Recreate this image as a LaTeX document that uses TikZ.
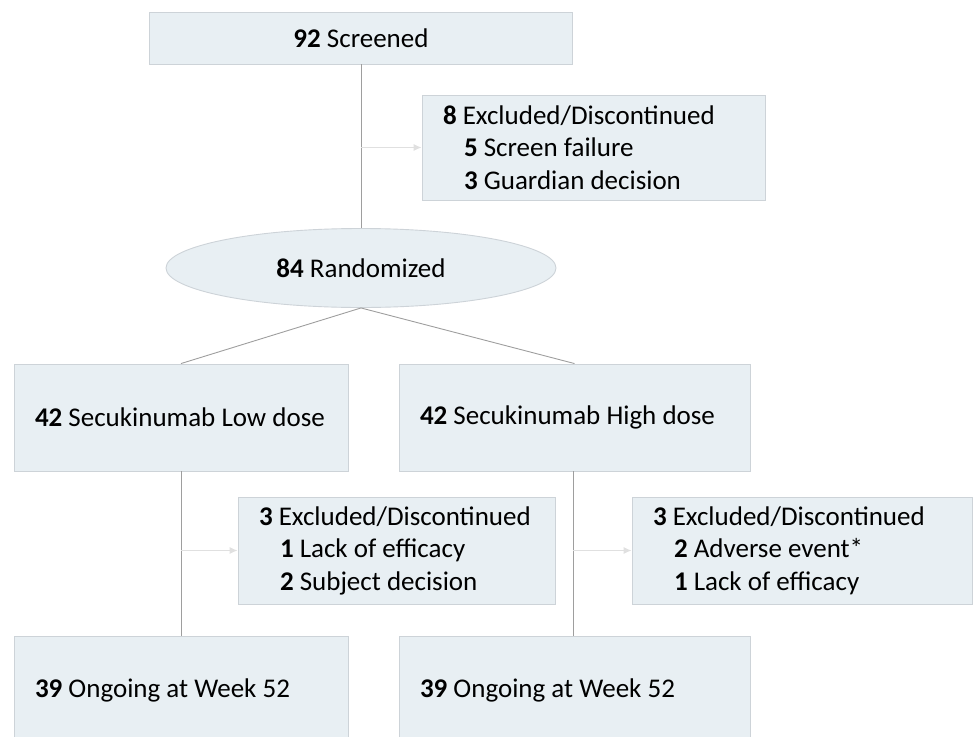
\documentclass[tikz,border=0pt]{standalone}
\usepackage{fontspec}
\setmainfont{Carlito}
\usetikzlibrary{arrows.meta}
\usetikzlibrary{shapes.geometric}
\definecolor{boxfill}{HTML}{E8EFF3}
\definecolor{boxline}{HTML}{CDD3D8}
\colorlet{linkgray}{black!38}
\colorlet{arrowgray}{black!12}

\begin{document}
\begin{tikzpicture}[
    x=1pt,y=-1pt,
    box/.style={draw=boxline,fill=boxfill,line width=0.9pt,rectangle,
      inner xsep=21pt,inner ysep=0pt,align=flush left,
      font=\fontsize{27}{32.5}\selectfont},
    oval/.style={draw=boxline,fill=boxfill,line width=0.9pt,ellipse,
      inner sep=0pt,font=\fontsize{27}{32.5}\selectfont},
    link/.style={linkgray,line width=0.9pt},
    outarrow/.style={arrowgray,line width=1pt,-{Latex[length=8pt,width=7pt]}}
  ]
  \def\ind{\hspace*{21pt}}

  \path[use as bounding box] (0,0) rectangle (974,736);
  \clip (0,0) rectangle (974,736);

  % BOXES
  \node[box,align=center,minimum width=423pt,minimum height=52pt]
    (screened) at (361,38) {\textbf{92} Screened};
  \node[box,text width=301pt,minimum height=105pt]
    (excl1) at (593.5,147.5)
    {\textbf{8} Excluded/Discontinued\\
     \ind\textbf{5} Screen failure\\
     \ind\textbf{3} Guardian decision};
  \node[oval,minimum width=390pt,minimum height=79pt]
    (rand) at (361,268) {\textbf{84} Randomized};
  \node[box,text width=292pt,minimum height=107pt]
    (low) at (181,417.5) {\textbf{42} Secukinumab Low dose};
  \node[box,text width=309pt,minimum height=107pt]
    (high) at (574.5,417.5) {\textbf{42} Secukinumab High dose};
  \node[box,text width=275pt,minimum height=107pt]
    (excl2) at (396.5,550.5)
    {\textbf{3} Excluded/Discontinued\\
     \ind\textbf{1} Lack of efficacy\\
     \ind\textbf{2} Subject decision};
  \node[box,text width=298pt,minimum height=107pt]
    (excl3) at (802,550.5)
    {\textbf{3} Excluded/Discontinued\\
     \ind\textbf{2} Adverse event*\\
     \ind\textbf{1} Lack of efficacy};
  \node[box,text width=292pt,minimum height=108pt]
    (ongL) at (181,690) {\textbf{39} Ongoing at Week 52};
  \node[box,text width=309pt,minimum height=108pt]
    (ongH) at (574.5,690) {\textbf{39} Ongoing at Week 52};

  % CONNECTORS
  \draw[link] (screened.south) -- (rand.north);
  \draw[link] (rand.south) -- (low.north);
  \draw[link] (rand.south) -- (high.north);
  \draw[link] (low.south) -- (ongL.north);
  \draw[link] ([xshift=-1.5pt]high.south) -- ([xshift=-1.5pt]ongH.north);

  % SIDE ARROWS
  \coordinate (s1) at (screened.south |- excl1.west);
  \coordinate (s2) at (low.south |- excl2.west);
  \coordinate (s3) at ([xshift=-1.5pt]high.south |- excl3.west);
  \draw[outarrow] (s1) -- (excl1.west);
  \draw[outarrow] (s2) -- (excl2.west);
  \draw[outarrow] (s3) -- (excl3.west);

\end{tikzpicture}
\end{document}
